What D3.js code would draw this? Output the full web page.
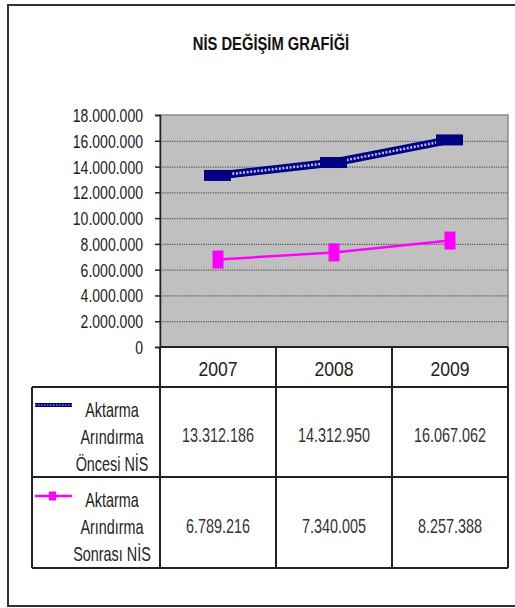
<!DOCTYPE html>
<html>
<head>
<meta charset="utf-8">
<script src="https://cdn.jsdelivr.net/npm/d3@7"></script>
<style>
  html, body { margin: 0; padding: 0; background: #fff; }
  svg { display: block; }
  text { font-family: "Liberation Sans", Arial, sans-serif; fill: #222; }
</style>
</head>
<body>
<script>
// Chart data
const years = ["2007", "2008", "2009"];
const seriesNames = [
  ["Aktarma", "Arındırma", "Öncesi NİS"],
  ["Aktarma", "Arındırma", "Sonrası NİS"]
];
const oncesi = [13312186, 14312950, 16067062];
const sonrasi = [6789216, 7340005, 8257388];
const yTicks = [0, 2000000, 4000000, 6000000, 8000000, 10000000, 12000000, 14000000, 16000000, 18000000];
const title = "NİS DEĞİŞİM GRAFİĞİ";

const W = 515, H = 608;
const plot = { left: 160, right: 508, top: 115, bottom: 347 };
const headerBottom = 387, row1Bottom = 477, row2Bottom = 568, legendLeft = 32;

const trLocale = d3.formatLocale({ decimal: ",", thousands: ".", grouping: [3], currency: ["", " TL"] });
const fmt = trLocale.format(",d");

// narrow text: regular sans squeezed horizontally
const narrow = (tx, ty, sx) => `translate(${tx},${ty}) scale(${sx},1)`;

const svg = d3.select("body").append("svg").attr("width", W).attr("height", H);

// outer frame
svg.append("rect").attr("x", 8).attr("y", 5).attr("width", 530).attr("height", 601)
  .attr("fill", "#fff").attr("stroke", "#333").attr("stroke-width", 2);

// title
svg.append("text").attr("text-anchor", "middle")
  .attr("transform", narrow(271, 50, 0.82))
  .attr("font-size", 18).attr("font-weight", "bold").style("fill", "#111").text(title);

const x = d3.scaleBand().domain(years).range([plot.left, plot.right]);
const cx = d => x(d) + x.bandwidth() / 2;
const y = d3.scaleLinear().domain([0, 18000000]).range([plot.bottom, plot.top]);

// plot area
svg.append("rect").attr("x", plot.left).attr("y", plot.top)
  .attr("width", plot.right - plot.left).attr("height", plot.bottom - plot.top)
  .attr("fill", "#c0c0c0").attr("stroke", "#8a8a8a").attr("stroke-width", 1.5);

// gridlines
const grid = svg.append("g").attr("transform", `translate(${plot.left},0)`)
  .call(d3.axisLeft(y).tickValues(yTicks.slice(1, -1)).tickSize(-(plot.right - plot.left)).tickFormat(""));
grid.select(".domain").remove();
grid.selectAll("line").attr("stroke", "#555").attr("stroke-width", 1.2).attr("stroke-dasharray", "1.2,1.2");

// y axis
const yAxis = svg.append("g").attr("transform", `translate(${plot.left},0)`)
  .call(d3.axisLeft(y).tickValues(yTicks).tickSize(5).tickFormat(fmt));
yAxis.select(".domain").attr("stroke", "#222").attr("stroke-width", 1.5);
yAxis.selectAll(".tick line").attr("stroke", "#222").attr("stroke-width", 1.5);
yAxis.selectAll(".tick text").attr("x", null).attr("dy", null)
  .attr("transform", narrow(-17, 6.5, 0.78))
  .attr("font-size", 18).attr("font-family", null).style("fill", "#222");

// series lines
const line = d3.line().x((d, i) => cx(years[i])).y(d => y(d));

svg.append("path").datum(oncesi).attr("d", line).attr("fill", "none")
  .attr("stroke", "#000080").attr("stroke-width", 8);
svg.append("path").datum(oncesi).attr("d", line).attr("fill", "none")
  .attr("stroke", "#b8c0ff").attr("stroke-width", 2.5).attr("stroke-dasharray", "2,1.6");
svg.selectAll(".m1").data(oncesi).join("rect").attr("class", "m1")
  .attr("x", (d, i) => cx(years[i]) - 14).attr("y", d => y(d) - 5.5)
  .attr("width", 27).attr("height", 11).attr("fill", "#000080");

svg.append("path").datum(sonrasi).attr("d", line).attr("fill", "none")
  .attr("stroke", "#ff00ff").attr("stroke-width", 2.5);
svg.selectAll(".m2").data(sonrasi).join("rect").attr("class", "m2")
  .attr("x", (d, i) => cx(years[i]) - 5.5).attr("y", d => y(d) - 9)
  .attr("width", 11).attr("height", 18).attr("fill", "#ff00ff");

// data table
const tbl = svg.append("g").attr("stroke", "#222").attr("stroke-width", 2);
tbl.append("line").attr("x1", plot.left).attr("x2", plot.right).attr("y1", plot.bottom).attr("y2", plot.bottom);
tbl.append("line").attr("x1", legendLeft).attr("x2", plot.right).attr("y1", headerBottom).attr("y2", headerBottom);
tbl.append("line").attr("x1", legendLeft).attr("x2", plot.right).attr("y1", row1Bottom).attr("y2", row1Bottom);
tbl.append("line").attr("x1", legendLeft).attr("x2", plot.right).attr("y1", row2Bottom).attr("y2", row2Bottom);
tbl.append("line").attr("x1", legendLeft).attr("x2", legendLeft).attr("y1", headerBottom).attr("y2", row2Bottom);
x.domain().forEach(d => {
  tbl.append("line").attr("x1", x(d)).attr("x2", x(d)).attr("y1", plot.bottom).attr("y2", row2Bottom);
});
tbl.append("line").attr("x1", plot.right).attr("x2", plot.right).attr("y1", plot.bottom).attr("y2", row2Bottom);

// header years
svg.selectAll(".yr").data(years).join("text").attr("class", "yr")
  .attr("text-anchor", "middle")
  .attr("transform", d => narrow(cx(d), 376, 0.88))
  .attr("font-size", 20).text(d => d);

// values
[oncesi, sonrasi].forEach((vals, r) => {
  const base = r === 0 ? 442 : 533;
  svg.selectAll(".v" + r).data(vals).join("text").attr("class", "v" + r)
    .attr("text-anchor", "middle")
    .attr("transform", (d, i) => narrow(cx(years[i]), base, 0.72))
    .attr("font-size", 20).style("fill", "#333").text(d => fmt(d));
});

// legend labels
seriesNames.forEach((lines, r) => {
  const top = r === 0 ? headerBottom : row1Bottom;
  lines.forEach((t, k) => {
    svg.append("text").attr("text-anchor", "middle")
      .attr("transform", narrow(112, top + 30 + k * 27, 0.72))
      .attr("font-size", 20).text(t);
  });
});

// legend keys
svg.append("line").attr("x1", 35).attr("x2", 72).attr("y1", 405).attr("y2", 405)
  .attr("stroke", "#000080").attr("stroke-width", 4);
svg.append("line").attr("x1", 35).attr("x2", 72).attr("y1", 405).attr("y2", 405)
  .attr("stroke", "#b8c0ff").attr("stroke-width", 1.2).attr("stroke-dasharray", "1.5,1.5");
svg.append("line").attr("x1", 35).attr("x2", 72).attr("y1", 496).attr("y2", 496)
  .attr("stroke", "#ff00ff").attr("stroke-width", 2.5);
svg.append("rect").attr("x", 49).attr("y", 491.5).attr("width", 7).attr("height", 9).attr("fill", "#ff00ff");
</script>
</body>
</html>
